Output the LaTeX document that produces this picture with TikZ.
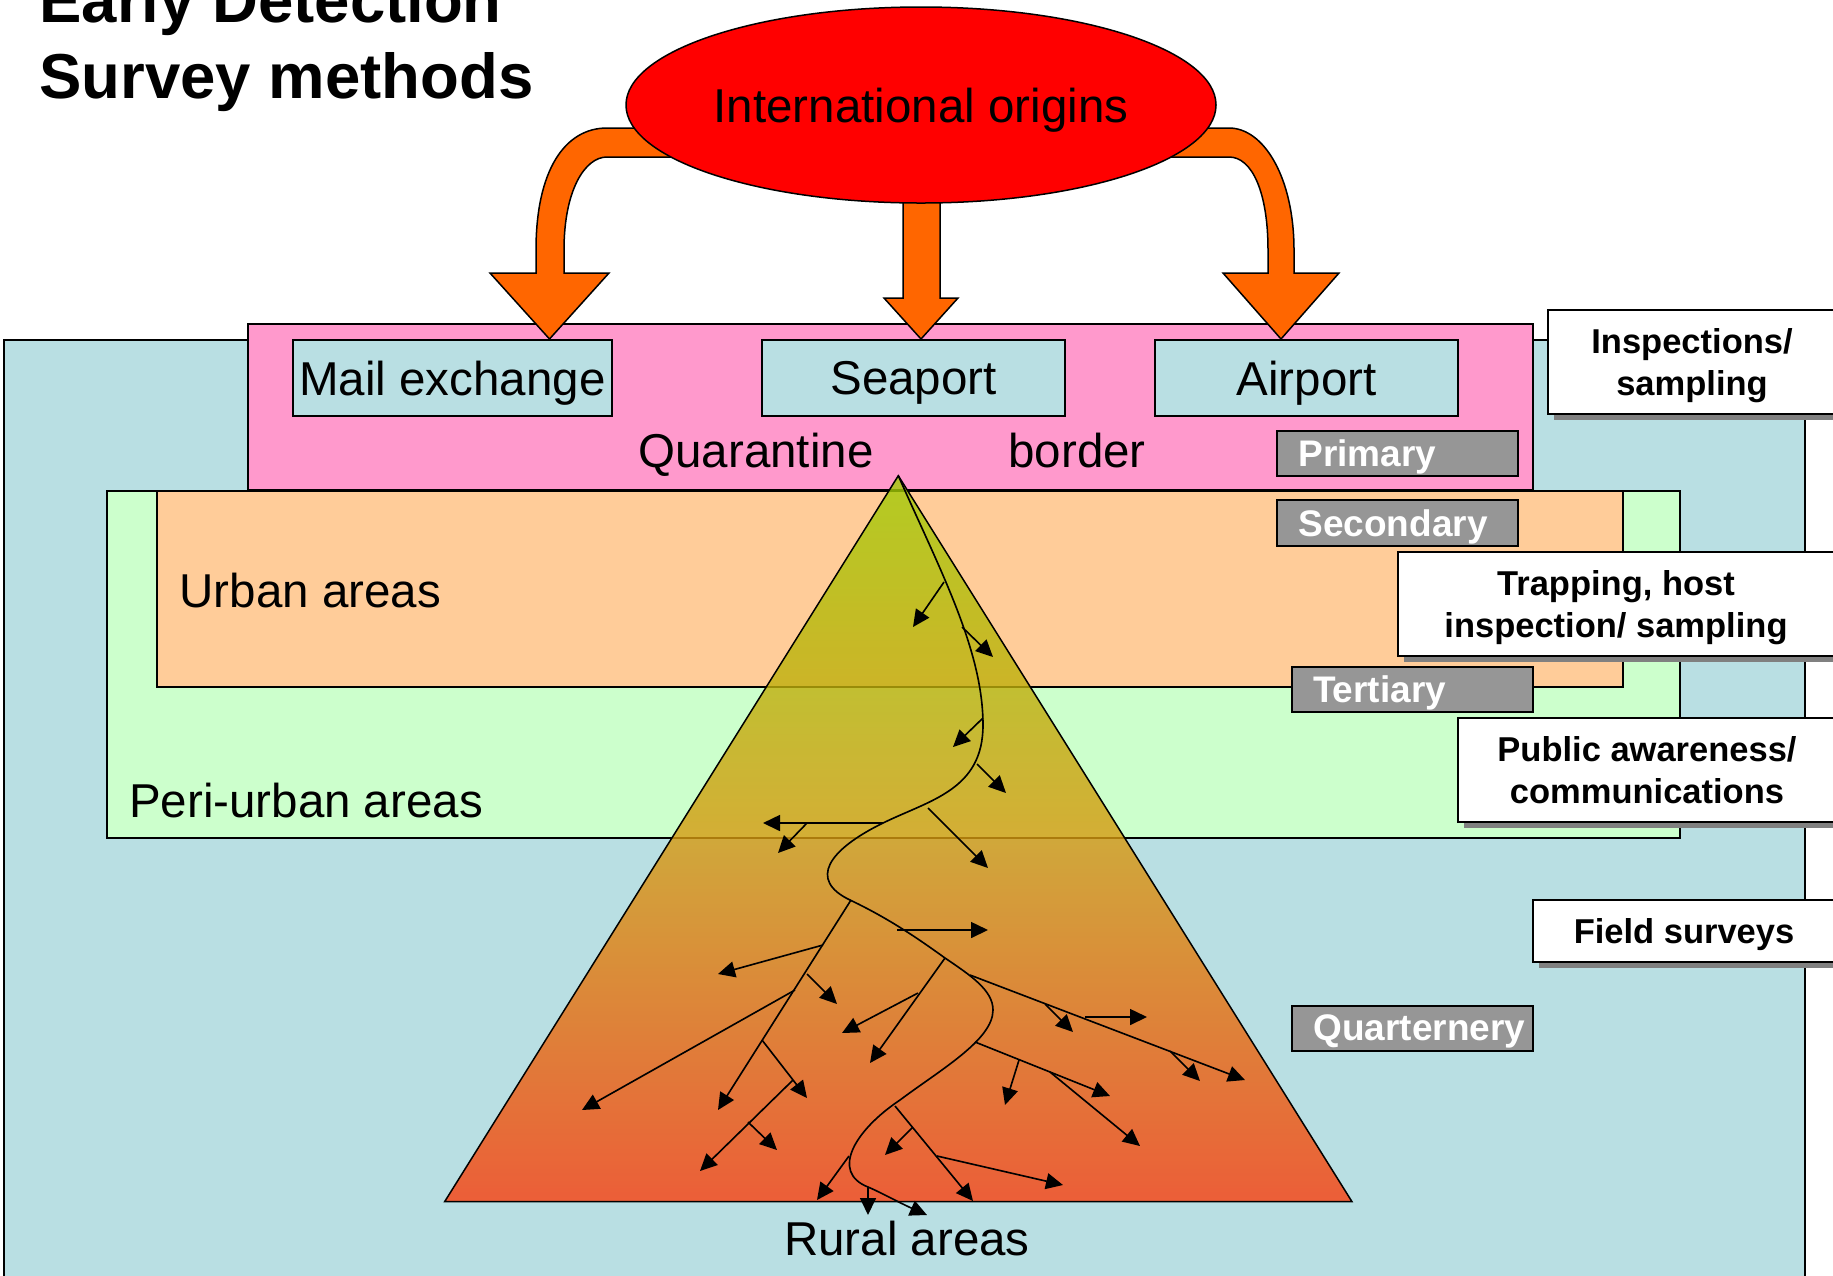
\documentclass[tikz,border=0pt]{standalone}
\usepackage{fontspec}
\setmainfont{Liberation Sans}
\usetikzlibrary{shapes.geometric,arrows.meta,shadows}
\definecolor{lblue}{RGB}{185,223,227}
\definecolor{lpink}{RGB}{255,153,204}
\definecolor{lpeach}{RGB}{255,204,153}
\definecolor{lgreen}{RGB}{204,255,204}
\definecolor{lgray}{RGB}{150,150,150}
\definecolor{shgray}{RGB}{128,128,128}
\definecolor{orng}{RGB}{255,102,0}
\definecolor{ttop}{RGB}{160,204,5}
\definecolor{tmid}{RGB}{214,154,16}
\definecolor{tbot}{RGB}{249,62,14}
\begin{document}
\begin{tikzpicture}[x=0.4pt,y=0.4pt,
  area/.style={draw=black, line width=0.8pt},
  portbox/.style={draw=black, line width=0.8pt, fill=lblue, inner sep=0pt, minimum height=30.4pt, text depth=0pt, font=\fontsize{19}{22}\selectfont},
  bigtext/.style={font=\fontsize{19}{22}\selectfont, inner sep=0pt},
  levelbox/.style={draw=black, line width=0.8pt, fill=lgray, text=white, font=\fontsize{14.8}{17}\selectfont\bfseries, inner xsep=0pt, inner ysep=0pt, text width=96.4pt, align=left, minimum height=18pt, text depth=0pt},
  methodbox/.style={draw=black, line width=0.8pt, fill=white, font=\fontsize{13.8}{16.5}\selectfont\bfseries, align=center, inner sep=0pt, text depth=0pt, general shadow={fill=shgray, shadow xshift=2.4pt, shadow yshift=-2.2pt}},
  flow/.style={draw=black, line width=0.6pt, fill=orng, line join=miter},
  branch/.style={line width=0.65pt, -{Triangle[length=6.8pt,width=6.4pt]}},
]
\useasboundingbox (0,0) rectangle (1833,-1275);
\clip (0,0) rectangle (1833,-1275);
\fill[white] (0,0) rectangle (1833,-1275);

% nested areas
\draw[area, fill=lblue] (4,-340) rectangle (1805,-1300);
\draw[area, fill=lpink] (248,-324) rectangle (1533,-490);
\draw[area, fill=lgreen] (107,-491) rectangle (1680,-838);
\draw[area, fill=lpeach] (157,-491) rectangle (1623,-687);

% ports
\node[portbox, minimum width=127.6pt] (mail) at (452.5,-378) {Mail exchange};
\node[portbox, minimum width=121.2pt] (sea) at (913.5,-378) {Seaport};
\node[portbox, minimum width=121.2pt] (air) at (1306.5,-378) {Airport};

% area labels
\node[bigtext, anchor=base west] (quar) at (638,-467) {Quarantine};
\node[bigtext, anchor=base west] (bord) at (1008,-467) {border};
\node[bigtext, anchor=base west] (urban) at (179,-607) {Urban areas};
\node[bigtext, anchor=base west] (peri) at (128.6,-817) {Peri-urban areas};
\node[bigtext, anchor=base] (rural) at (907,-1255) {Rural areas};

% orange flow arrows
\draw[flow] (700,-128) -- (607,-128) .. controls (565,-128) and (536,-170) .. (536,-250)
  -- (536,-273) -- (490,-273) -- (549.5,-339) -- (609,-273) -- (564,-273) -- (564,-250)
  .. controls (564,-190) and (585,-157) .. (607,-157) -- (700,-157) -- cycle;
\draw[flow] (1140,-128) -- (1229,-128) .. controls (1264,-128) and (1294,-178) .. (1294,-250)
  -- (1294,-273) -- (1339,-273) -- (1281,-339) -- (1223,-273) -- (1268,-273) -- (1268,-250)
  .. controls (1268,-192) and (1252,-157) .. (1229,-157) -- (1140,-157) -- cycle;
\draw[flow] (903,-190) -- (903,-298) -- (884,-298) -- (921,-339) -- (958,-298) -- (940,-298) -- (940,-190) -- cycle;

% origin
\node[ellipse, draw=black, line width=0.6pt, fill=red, minimum width=236pt, minimum height=78.4pt, inner sep=0pt, font=\fontsize{19}{22}\selectfont, text depth=0pt] (origins) at (921,-105) {International origins};

% title
\node[anchor=south west, inner sep=0pt, align=left, text depth=0pt, font=\fontsize{25.4}{30.6}\selectfont\bfseries] (title) at (39,-99.3) {Early Detection\\Survey methods};

% pyramid
\shade[top color=ttop, bottom color=tbot, middle color=tmid, fill opacity=0.8] (898.3,-475.7) -- (1352,-1201.7) -- (444.6,-1201.7) -- cycle;
\draw[line width=0.6pt, line join=miter] (898.3,-475.7) -- (1352,-1201.7) -- (444.6,-1201.7) -- cycle;

% spread tree: trunk
\draw[branch] (898.3,-475.7) .. controls (940,-570) and (983,-650) .. (983,-725)
  .. controls (983,-790) and (930,-800) .. (883,-823)
  .. controls (828,-850) and (808,-880) .. (850,-900)
  .. controls (890,-919) and (920,-940) .. (945,-958)
  .. controls (970,-975) and (993,-990) .. (993,-1010)
  .. controls (993,-1040) and (940,-1070) .. (900,-1100)
  .. controls (855,-1130) and (830,-1172) .. (868,-1187)
  .. controls (880,-1192) and (900,-1203) .. (927,-1215);
% branches
\draw[branch] (944,-582) -- (913,-627);
\draw[branch] (962,-627) -- (993,-657);
\draw[branch] (983,-718) -- (953,-747);
\draw[branch] (977,-764) -- (1006,-793);
\draw[branch] (928,-808) -- (988,-868);
\draw[branch] (883,-823) -- (763,-823);
\draw[branch] (807,-823) -- (778,-853);
\draw[branch] (897,-930) -- (988,-930);
\draw[branch] (851,-900) -- (718,-1110);
\draw[branch] (823,-945) -- (718,-974);
\draw[branch] (807,-974) -- (837,-1004);
\draw[branch] (795,-990) -- (582,-1110);
\draw[branch] (762,-1040) -- (807,-1098);
\draw[branch] (793,-1080) -- (700,-1171);
\draw[branch] (748,-1122) -- (777,-1150);
\draw[branch] (945,-958) -- (870,-1063);
\draw[branch] (918,-993) -- (842,-1033);
\draw[branch] (970,-975) -- (1245,-1080);
\draw[branch] (1045,-1004) -- (1073,-1032);
\draw[branch] (1085,-1017) -- (1147,-1017);
\draw[branch] (1170,-1051) -- (1200,-1081);
\draw[branch] (975,-1042) -- (1110,-1096);
\draw[branch] (1019,-1060) -- (1005,-1105);
\draw[branch] (1050,-1072) -- (1140,-1146);
\draw[branch] (895,-1106) -- (973,-1201);
\draw[branch] (913,-1127) -- (885,-1155);
\draw[branch] (937,-1156) -- (1063,-1185);
\draw[branch] (849,-1156) -- (817,-1200);
\draw[branch] (868,-1187) -- (868,-1215);

% levels
\node[levelbox] (prim) at (1397.5,-453.5) {\hspace*{8.6pt}Primary};
\node[levelbox, minimum height=18.4pt] (sec) at (1397.5,-523) {\hspace*{8.6pt}Secondary};
\node[levelbox] (tert) at (1412,-689.5) {\hspace*{8.6pt}Tertiary};
\node[levelbox] (quat) at (1412.5,-1028) {\hspace*{8.6pt}Quarternery};

% methods
\node[methodbox, minimum width=115.4pt, minimum height=41.6pt] (insp) at (1692,-362) {Inspections/\\sampling};
\node[methodbox, minimum width=174.8pt, minimum height=41.6pt] (trap) at (1616,-604) {Trapping, host\\inspection/ sampling};
\node[methodbox, minimum width=151.2pt, minimum height=41.6pt] (pub) at (1647,-770) {Public awareness/\\communications};
\node[methodbox, minimum width=120.8pt, minimum height=24.8pt] (field) at (1684,-931) {Field surveys};
\end{tikzpicture}
\end{document}
